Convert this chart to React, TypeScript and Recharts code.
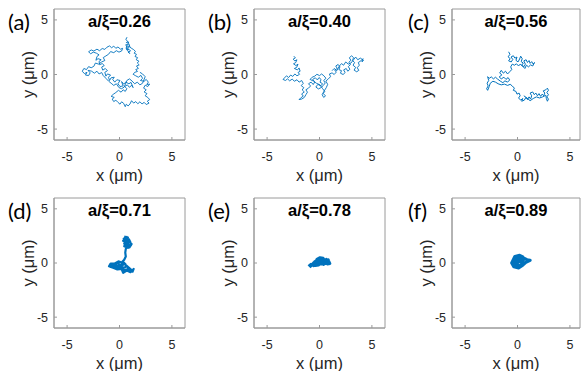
import { LineChart, Line, XAxis, YAxis, ReferenceArea } from "recharts";

const BLUE = "#0072BD";
const BOX = "#9a9a9a";
const INK = "#262626";

const AXIS_TICKS = [-5, 0, 5];
const Y_DOMAIN = [-6, 6];

const PANEL_TAGS = ["(a)", "(b)", "(c)", "(d)", "(e)", "(f)"];
const PANEL_TITLES = [
  "a/ξ=0.26",
  "a/ξ=0.40",
  "a/ξ=0.56",
  "a/ξ=0.71",
  "a/ξ=0.78",
  "a/ξ=0.89",
];

// trajectories, in µm
const pathA = [
  [0.72, 3.42], [0.6, 3.2], [0.78, 3.05], [0.65, 2.92], [0.88, 2.98], [0.8, 2.78],
  [0.58, 2.7], [0.75, 2.55], [0.95, 2.62], [0.85, 2.4], [0.62, 2.45], [0.7, 2.25],
  [0.92, 2.3], [1.05, 2.15], [0.82, 2.05], [0.98, 1.92], [0.78, 2.18], [0.66, 2.6],
  [0.9, 2.82], [1.0, 2.5], [1.18, 2.38], [1.35, 2.28], [1.52, 2.12], [1.4, 1.95],
  [1.62, 1.85], [1.48, 1.65], [1.72, 1.55], [1.6, 1.35], [1.85, 1.22], [1.7, 1.05],
  [1.88, 0.88], [1.62, 0.78], [1.8, 0.55], [1.55, 0.45], [1.72, 0.28], [1.45, 0.2],
  [1.3, 0.02], [1.55, -0.12], [1.8, -0.25], [2.05, -0.08], [2.2, -0.35], [2.0, -0.55],
  [2.35, -0.62], [2.55, -0.45], [2.75, -0.7], [2.6, -0.92], [2.88, -0.88], [2.7, -1.1],
  [2.45, -0.98], [2.3, -1.25], [2.55, -1.4], [2.35, -1.6], [2.62, -1.75], [2.45, -1.95],
  [2.7, -2.1], [2.88, -2.3], [2.65, -2.45], [2.82, -2.62], [2.55, -2.75], [2.35, -2.55],
  [2.15, -2.7], [1.95, -2.5], [1.75, -2.68], [1.55, -2.48], [1.35, -2.62], [1.15, -2.4],
  [1.0, -2.7], [0.82, -2.88], [0.65, -2.72], [0.55, -2.95], [0.4, -2.65], [0.2, -2.5],
  [0.05, -2.72], [-0.15, -2.55], [-0.35, -2.35], [-0.55, -2.48], [-0.7, -2.25], [-0.5, -2.1],
  [-0.8, -2.0], [-0.6, -1.82], [-0.35, -1.65], [-0.1, -1.45], [0.15, -1.62], [0.35, -1.4],
  [0.55, -1.55], [0.7, -1.3], [0.5, -1.1], [0.75, -0.95], [0.95, -1.18], [1.15, -0.98],
  [1.3, -1.2], [1.1, -0.72], [0.9, -0.85], [0.6, -0.7], [0.4, -0.88], [0.2, -0.65],
  [0.35, -1.05], [0.05, -1.1], [-0.15, -0.85], [0.05, -0.55], [-0.25, -0.48], [-0.45, -0.7],
  [-0.65, -0.45], [-0.5, -0.25], [-0.8, -0.3], [-0.95, -0.55], [-1.05, -0.25], [-0.85, -0.05],
  [-1.15, 0.05], [-1.3, -0.15], [-1.4, 0.2], [-1.15, 0.35], [-1.35, 0.55], [-1.6, 0.4],
  [-1.7, 0.68], [-1.45, 0.82], [-1.65, 1.0], [-1.9, 0.9], [-1.95, 1.2], [-1.75, 1.35],
  [-2.05, 1.45], [-2.25, 1.3], [-2.15, 1.65], [-1.95, 1.8], [-2.2, 1.95], [-2.5, 2.05],
  [-2.75, 1.9], [-2.95, 2.08], [-2.7, 2.25], [-2.45, 2.15], [-2.15, 2.32], [-1.9, 2.18],
  [-1.65, 2.38], [-1.4, 2.3], [-1.2, 2.5], [-0.95, 2.62], [-0.75, 2.45], [-0.55, 2.6],
  [-0.35, 2.4], [-0.15, 2.52], [0.1, 2.32], [0.3, 2.4], [0.2, 2.15], [-0.05, 2.05],
  [-0.3, 2.18], [-0.55, 2.0], [-0.85, 2.1], [-1.05, 1.85], [-1.3, 1.7], [-1.55, 1.55],
  [-1.4, 1.28], [-1.7, 1.15], [-2.0, 0.95], [-2.3, 1.05], [-2.45, 0.75], [-2.7, 0.62],
  [-2.95, 0.72], [-3.15, 0.45], [-3.4, 0.55], [-3.55, 0.3], [-3.35, 0.08], [-3.1, 0.2],
  [-3.25, -0.05], [-2.95, -0.1], [-2.8, 0.15], [-3.0, 0.38], [-2.65, 0.3], [-2.4, 0.12],
  [-2.15, 0.3], [-1.95, 0.05], [-1.7, 0.18], [-1.55, -0.1], [-1.3, -0.35], [-1.05, -0.6],
  [-0.8, -0.8], [-0.55, -1.0], [-0.3, -0.85], [-0.05, -1.2], [0.2, -1.3], [0.45, -1.15],
  [0.7, -0.55], [0.95, -0.4], [1.2, -0.6], [1.45, -0.85], [1.7, -0.7], [1.95, -0.95],
  [2.2, -0.8], [2.45, -0.2], [2.2, 0.05], [1.95, 0.2],
];

const pathB = [
  [-2.45, 1.68], [-2.3, 1.52], [-2.52, 1.4], [-2.35, 1.25], [-2.15, 1.35], [-2.28, 1.08],
  [-2.48, 0.98], [-2.25, 0.82], [-2.05, 0.95], [-2.18, 0.65], [-2.4, 0.55], [-2.1, 0.42],
  [-1.95, 0.6], [-1.85, 0.3], [-2.05, 0.18], [-1.9, 0.02], [-2.15, -0.12], [-2.35, 0.05],
  [-2.55, -0.18], [-2.75, -0.05], [-2.95, -0.28], [-3.15, -0.12], [-3.35, -0.32], [-3.48, -0.45],
  [-3.25, -0.55], [-3.05, -0.4], [-2.85, -0.58], [-2.6, -0.42], [-2.4, -0.62], [-2.15, -0.48],
  [-1.95, -0.7], [-1.7, -0.55], [-1.55, -0.82], [-1.75, -1.02], [-1.5, -1.2], [-1.65, -1.42],
  [-1.45, -1.6], [-1.7, -1.78], [-1.55, -1.98], [-1.8, -2.15], [-1.95, -2.3], [-1.7, -2.25],
  [-1.45, -2.1], [-1.3, -1.85], [-1.15, -1.62], [-1.3, -1.4], [-1.05, -1.25], [-0.85, -1.05],
  [-1.05, -0.85], [-0.8, -0.7], [-0.6, -0.92], [-0.45, -0.68], [-0.65, -0.45], [-0.4, -0.3],
  [-0.2, -0.5], [-0.05, -0.28], [0.15, -0.45], [0.05, -0.7], [0.3, -0.85], [0.1, -1.05],
  [-0.15, -0.9], [-0.35, -1.15], [-0.1, -1.32], [0.15, -1.2], [0.35, -1.02], [0.55, -0.78],
  [0.4, -0.55], [0.62, -0.35], [0.42, -0.12], [0.2, 0.05], [0.0, -0.1], [-0.25, 0.02],
  [-0.45, -0.15], [-0.7, -0.25], [-0.9, -0.45], [-0.55, -0.62], [-0.3, -0.8], [0.05, -0.95],
  [0.3, -1.3], [0.5, -1.55], [0.35, -1.75], [0.58, -1.95], [0.4, -2.1], [0.25, -1.85],
  [0.45, -1.5], [0.65, -1.2], [0.78, -0.9], [0.6, -0.6], [0.85, -0.4], [1.05, -0.2],
  [0.95, 0.05], [1.2, 0.15], [1.4, 0.0], [1.6, 0.22], [1.45, 0.42], [1.7, 0.55],
  [1.55, 0.78], [1.78, 0.92], [1.95, 0.7], [1.85, 0.45], [2.1, 0.35], [2.0, 0.12],
  [2.25, 0.0], [2.45, 0.18], [2.3, 0.42], [2.55, 0.55], [2.7, 0.3], [2.9, 0.48],
  [2.75, 0.72], [2.95, 0.9], [2.8, 1.12], [3.0, 1.3], [2.85, 1.52], [3.05, 1.72],
  [3.25, 1.55], [3.15, 1.28], [3.35, 1.1], [3.2, 0.85], [3.45, 0.65], [3.3, 0.4],
  [3.55, 0.25], [3.75, 0.38], [3.6, 0.62], [3.8, 0.85], [3.7, 1.1], [3.95, 1.25],
  [4.15, 1.45], [4.05, 1.15], [4.2, 1.3], [3.9, 1.5], [3.65, 1.35], [3.45, 1.6],
  [3.25, 1.35], [3.0, 1.05], [2.75, 0.95], [2.5, 1.15], [2.3, 0.85], [2.1, 1.0],
  [1.9, 0.78], [1.65, 0.35], [1.4, 0.55], [1.2, 0.35],
];

const pathC = [
  [-0.85, 2.08], [-0.72, 1.85], [-0.9, 1.62], [-0.7, 1.45], [-0.85, 1.25], [-0.6, 1.15],
  [-0.45, 1.38], [-0.62, 1.6], [-0.4, 1.72], [-0.25, 1.5], [-0.05, 1.6], [-0.15, 1.3],
  [0.05, 1.15], [0.2, 1.42], [0.3, 1.68], [0.45, 1.45], [0.35, 1.18], [0.55, 1.05],
  [0.4, 0.85], [0.62, 0.72], [0.75, 0.95], [0.6, 1.25], [0.82, 1.35], [0.95, 1.1],
  [1.1, 1.28], [1.2, 1.02], [1.35, 1.18], [1.5, 0.95], [1.62, 1.1], [1.45, 0.78],
  [1.25, 0.88], [1.05, 0.7], [0.85, 0.85], [0.7, 0.55], [0.5, 0.75], [0.25, 0.95],
  [0.1, 0.78], [-0.1, 0.98], [-0.3, 0.85], [-0.5, 0.95], [-0.65, 0.7], [-0.55, 0.45],
  [-0.75, 0.25], [-0.95, 0.05], [-1.15, 0.3], [-1.35, 0.12], [-1.55, 0.38], [-1.7, 0.15],
  [-1.5, -0.05], [-1.75, -0.22], [-1.55, -0.4], [-1.3, -0.25], [-1.1, -0.45], [-0.9, -0.28],
  [-0.75, -0.5], [-0.95, -0.7], [-1.2, -0.58], [-1.4, -0.75], [-1.65, -0.6], [-1.9, -0.42],
  [-2.1, -0.25], [-2.3, -0.4], [-2.5, -0.22], [-2.7, -0.35], [-2.85, -0.2], [-2.75, -0.55],
  [-2.9, -0.8], [-2.8, -1.05], [-2.95, -1.3], [-2.85, -1.45], [-2.7, -1.1], [-2.6, -0.8],
  [-2.35, -0.62], [-2.1, -0.7], [-1.85, -0.85], [-1.55, -0.95], [-1.25, -0.88], [-0.95, -1.0],
  [-0.7, -0.9], [-0.5, -1.05], [-0.3, -1.25], [-0.4, -1.45], [-0.15, -1.55], [-0.05, -1.8],
  [0.15, -1.7], [0.25, -1.95], [0.1, -2.15], [0.3, -2.35], [0.5, -2.2], [0.4, -2.45],
  [0.65, -2.35], [0.8, -2.1], [0.95, -2.3], [1.1, -2.05], [1.25, -2.25], [1.35, -1.95],
  [1.2, -1.7], [1.45, -1.6], [1.6, -1.85], [1.75, -1.7], [1.9, -1.95], [2.05, -1.75],
  [2.2, -2.0], [2.35, -1.8], [2.5, -1.95], [2.6, -1.7], [2.45, -1.5], [2.7, -1.4],
  [2.85, -1.25], [2.95, -1.45], [2.8, -1.65], [2.95, -1.85], [2.8, -2.05], [2.95, -2.25],
  [2.85, -2.45], [2.75, -2.2], [2.7, -1.9], [2.4, -2.05], [2.1, -2.15], [1.8, -2.05],
  [1.5, -2.2], [1.2, -2.4], [0.9, -2.15], [0.6, -1.95],
];

const pathD = [
  [0.45, 2.45], [0.8, 2.35], [0.55, 2.15], [0.95, 2.0], [0.65, 1.8], [1.1, 1.65],
  [0.8, 1.4], [0.45, 1.55], [0.7, 1.85], [0.35, 2.05], [0.6, 2.3], [0.9, 2.2],
  [1.05, 1.9], [0.75, 2.05], [0.45, 1.8], [0.6, 1.55], [0.95, 1.45], [1.15, 1.75],
  [0.85, 1.7], [0.55, 1.95], [0.4, 2.25], [0.7, 2.4], [0.5, 1.9], [0.75, 1.6],
  [0.6, 1.3], [0.55, 0.95], [0.6, 0.6], [0.45, 0.3], [0.2, 0.05], [-0.1, 0.15],
  [-0.45, -0.05], [-0.85, -0.05], [-1.0, -0.3], [-0.7, -0.4], [-0.3, -0.35], [0.05, -0.2],
  [0.4, -0.45], [0.7, -0.3], [0.95, -0.55], [1.25, -0.8], [1.35, -0.55], [1.05, -0.85],
  [0.7, -0.7], [0.35, -0.9], [0.2, -0.55], [-0.2, -0.6], [-0.55, -0.45], [-0.9, -0.35],
  [-0.6, -0.15], [-0.2, 0.0], [0.15, -0.25], [0.5, -0.1], [0.8, -0.35], [1.15, -0.65],
  [0.85, -0.55], [0.45, -0.65], [0.1, -0.4], [-0.35, -0.2], [-0.75, -0.25], [-0.4, -0.5],
  [0.0, -0.45], [0.35, 0.1], [0.6, -0.15],
];

const pathE = [
  [-1.05, -0.3], [-0.8, -0.1], [-0.55, -0.25], [-0.3, 0.05], [-0.05, -0.15], [0.2, 0.2],
  [0.45, 0.05], [0.65, 0.35], [0.9, 0.15], [1.0, -0.05], [0.75, -0.1], [0.5, 0.3],
  [0.2, 0.45], [-0.1, 0.3], [-0.35, 0.2], [-0.6, 0.0], [-0.4, -0.25], [-0.1, -0.2],
  [0.15, 0.0], [0.4, -0.15], [0.3, 0.3], [0.0, 0.15], [-0.25, 0.35], [0.05, 0.5],
  [0.35, 0.45], [0.55, 0.1], [0.85, 0.3], [0.6, -0.05], [0.25, -0.1], [-0.2, -0.05],
  [-0.45, 0.15], [-0.15, 0.05], [0.1, 0.35], [0.4, 0.2], [-0.75, -0.2], [-0.95, -0.4],
];

const pathF = [
  [-0.4, -0.1], [-0.2, 0.3], [0.1, 0.55], [0.4, 0.6], [0.55, 0.25], [0.35, -0.15],
  [0.05, -0.35], [-0.25, -0.3], [-0.45, 0.1], [-0.15, 0.45], [0.25, 0.35], [0.45, 0.0],
  [0.2, -0.3], [-0.1, -0.1], [0.15, 0.2], [-0.3, 0.15], [0.0, 0.4], [0.35, 0.15],
  [0.6, 0.45], [0.9, 0.3], [1.2, 0.25], [0.85, 0.1], [0.5, -0.2], [0.1, -0.45],
  [-0.35, -0.35], [-0.55, 0.0], [-0.25, 0.6], [0.2, 0.7], [0.5, 0.55], [0.3, -0.05],
];

const PANEL_PATHS = [pathA, pathB, pathC, pathD, pathE, pathF];
const PANEL_STROKES = [0.9, 0.9, 1.0, 2.2, 2.8, 3.2];

// where each axes box sits in the page (px); the right column is cut by the page edge
const BOX_LEFT = [54, 254, 452, 54, 254, 452];
const BOX_TOP = [9, 9, 9, 198, 198, 198];
const BOX_W = [131, 131, 128, 131, 131, 128];
const BOX_H = [131, 131, 131, 130, 130, 130];
const X_DOMAINS = [
  [-6.25, 6.25],
  [-6.25, 6.25],
  [-6.25, 5.96],
  [-6.25, 6.25],
  [-6.25, 6.25],
  [-6.25, 5.96],
];

const Y_AXIS_W = 50;
const X_AXIS_H = 45;

function Panel({ index }: { index: number }) {
  const data = PANEL_PATHS[index].map(([x, y]) => ({ x, y }));
  const left = BOX_LEFT[index];
  const top = BOX_TOP[index];
  const xDomain = X_DOMAINS[index];

  return (
    <>
      <div
        style={{
          position: "absolute",
          left: left - 46 - (index % 3 === 2 ? -2 : 0),
          top: top + 1,
          fontFamily: "Lato, 'Open Sans', sans-serif",
          fontSize: 22,
          lineHeight: "24px",
          color: "#000",
        }}
      >
        {PANEL_TAGS[index]}
      </div>
      <div style={{ position: "absolute", left: left - Y_AXIS_W, top: top - 2 }}>
        <LineChart
          width={Y_AXIS_W + BOX_W[index] + 2}
          height={2 + BOX_H[index] + X_AXIS_H}
          data={data}
          margin={{ top: 2, right: 2, bottom: 0, left: 0 }}
          style={{ fontFamily: "'Liberation Sans', Arial, sans-serif" }}
        >
          <XAxis
            xAxisId="b"
            type="number"
            dataKey="x"
            domain={xDomain}
            allowDataOverflow
            ticks={AXIS_TICKS}
            height={X_AXIS_H}
            axisLine={{ stroke: BOX }}
            tickLine={{ stroke: BOX }}
            tickSize={-3}
            tickMargin={15}
            tick={{ fill: INK, fontSize: 12.5 }}
            label={{
              value: "x (μm)",
              position: "insideBottom",
              offset: 4,
              fill: INK,
              fontSize: 16.5,
            }}
          />
          <XAxis
            xAxisId="t"
            orientation="top"
            type="number"
            dataKey="x"
            domain={xDomain}
            allowDataOverflow
            ticks={AXIS_TICKS}
            height={0}
            axisLine={false}
            tickLine={{ stroke: BOX }}
            tickSize={-3}
            tick={false}
          />
          <YAxis
            yAxisId="l"
            type="number"
            domain={Y_DOMAIN}
            allowDataOverflow
            ticks={AXIS_TICKS}
            width={Y_AXIS_W}
            axisLine={{ stroke: BOX }}
            tickLine={{ stroke: BOX }}
            tickSize={-3}
            tickMargin={9}
            tick={{ fill: INK, fontSize: 12.5 }}
            label={{
              value: "y (μm)",
              angle: -90,
              position: "insideLeft",
              offset: 24,
              fill: INK,
              fontSize: 16.5,
              style: { textAnchor: "middle" },
            }}
          />
          <YAxis
            yAxisId="r"
            orientation="right"
            type="number"
            domain={Y_DOMAIN}
            allowDataOverflow
            ticks={AXIS_TICKS}
            width={0}
            axisLine={false}
            tickLine={{ stroke: BOX }}
            tickSize={-3}
            tick={false}
          />
          <ReferenceArea
            xAxisId="b"
            yAxisId="l"
            x1={xDomain[0]}
            x2={xDomain[1]}
            y1={Y_DOMAIN[0]}
            y2={Y_DOMAIN[1]}
            fill="none"
            stroke={BOX}
            label={{
              value: PANEL_TITLES[index],
              position: "insideTop",
              offset: 6,
              fill: "#000",
              fontSize: 16.5,
              fontWeight: "bold",
            }}
          />
          <Line
            xAxisId="b"
            yAxisId="l"
            type="linear"
            dataKey="y"
            stroke={BLUE}
            strokeWidth={PANEL_STROKES[index]}
            strokeLinejoin="round"
            dot={false}
            activeDot={false}
            isAnimationActive={false}
          />
        </LineChart>
      </div>
    </>
  );
}

export default function App() {
  return (
    <div
      style={{
        position: "absolute",
        left: 0,
        top: 0,
        width: 581,
        height: 371,
        background: "#fff",
        overflow: "hidden",
      }}
    >
      {PANEL_PATHS.map((_, i) => (
        <Panel key={i} index={i} />
      ))}
    </div>
  );
}
